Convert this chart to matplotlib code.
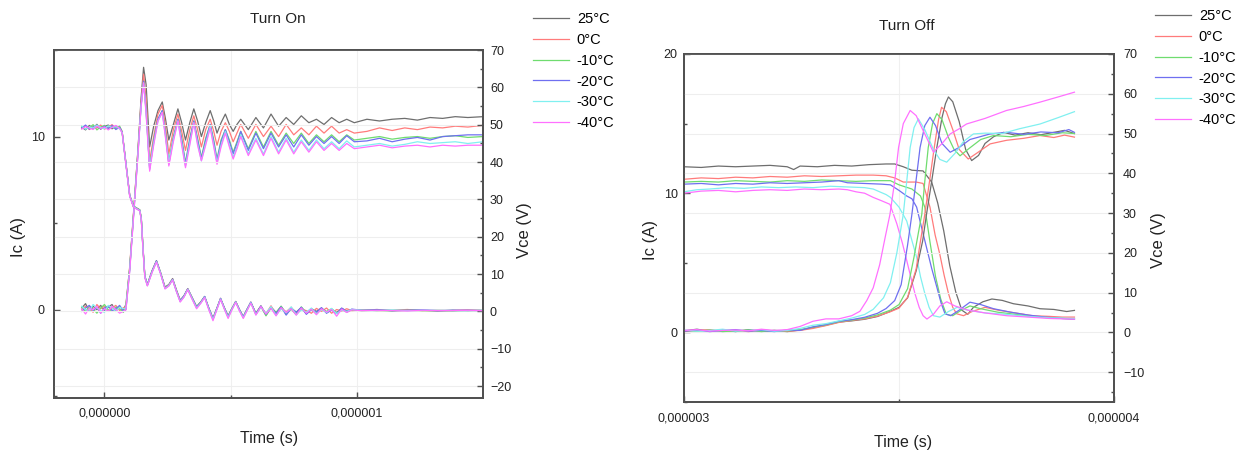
import numpy as np
import matplotlib
matplotlib.use("Agg")
import matplotlib.pyplot as plt
from matplotlib.ticker import MultipleLocator, FixedLocator, FuncFormatter

plt.rcParams['font.family'] = ['Liberation Sans', 'DejaVu Sans']

TEMPS = ['25°C', '0°C', '-10°C', '-20°C', '-30°C', '-40°C']
COLORS = ['#6e6e6e', '#ff7b7b', '#6fdc6f', '#6f6ff0', '#80f0f0', '#ff70ff']

# ---------------- Turn On (time in microseconds) ----------------
ON_IC_T = [-0.09, -0.075, -0.06, -0.045, -0.03, -0.015, 0.0, 0.015, 0.03, 0.045, 0.06, 0.075,
           0.085, 0.10, 0.117, 0.133, 0.145, 0.155, 0.165,
           0.179, 0.195, 0.212, 0.229, 0.242, 0.255, 0.273, 0.291, 0.306, 0.321, 0.338, 0.354,
           0.369, 0.384, 0.401, 0.419, 0.433, 0.446, 0.462, 0.479, 0.495, 0.51, 0.525, 0.54,
           0.57, 0.60, 0.63, 0.66, 0.69, 0.72, 0.75, 0.78, 0.81, 0.84, 0.87, 0.90, 0.93, 0.96, 0.99,
           1.04, 1.09, 1.14, 1.19, 1.24, 1.29, 1.34, 1.39, 1.44, 1.5]

ON_IC_25 = [0.1, 0.35, -0.1, 0.2, 0.0, 0.25, -0.05, 0.15, 0.3, -0.1, 0.2, 0.0,
            0.3, 2.4, 5.9, 9.3, 12.2, 14.0, 13.0,
            9.4, 10.6, 11.5, 12.0, 11.0, 9.8, 10.7, 11.6, 10.8, 9.8, 10.8, 11.6,
            10.9, 10.0, 10.8, 11.5, 10.9, 10.2, 10.8, 11.3, 10.7, 10.3, 10.7, 11.0,
            10.4, 11.1, 10.5, 11.3, 10.6, 11.1, 10.7, 11.2, 10.8, 11.0, 10.7, 11.1, 10.8, 11.0, 10.8,
            11.0, 10.9, 11.0, 11.05, 10.95, 11.1, 11.05, 11.15, 11.1, 11.15]
ON_IC_0 = [0.0, 0.2, 0.1, -0.15, 0.3, 0.05, 0.2, -0.1, 0.1, 0.25, -0.05, 0.1,
           0.2, 2.5, 6.0, 9.3, 12.0, 13.6, 12.2,
           8.6, 10.0, 11.3, 11.8, 10.6, 9.0, 10.4, 11.3, 10.3, 9.2, 10.4, 11.2,
           10.4, 9.4, 10.4, 11.0, 10.3, 9.5, 10.3, 10.8, 10.3, 9.7, 10.2, 10.7,
           9.9, 10.7, 10.0, 10.6, 10.0, 10.7, 10.1, 10.5, 10.1, 10.6, 10.2, 10.6, 10.2, 10.4, 10.2,
           10.3, 10.5, 10.35, 10.5, 10.4, 10.55, 10.5, 10.6, 10.55, 10.65]
ON_IC_M10 = [0.15, -0.1, 0.2, 0.05, -0.2, 0.1, 0.3, 0.0, -0.1, 0.15, 0.05, -0.15,
             0.1, 2.4, 5.9, 9.2, 11.8, 13.2, 11.6,
             8.2, 9.8, 11.0, 11.5, 10.2, 8.5, 10.0, 11.0, 9.9, 8.5, 9.9, 10.9,
             9.9, 8.8, 9.9, 10.7, 9.8, 8.7, 9.8, 10.4, 9.8, 9.1, 9.7, 10.3,
             9.3, 10.3, 9.4, 10.3, 9.5, 10.2, 9.6, 10.2, 9.6, 10.1, 9.7, 10.1, 9.7, 10.1, 9.8,
             9.9, 10.0, 9.85, 9.95, 10.0, 9.9, 10.0, 10.05, 9.95, 10.0]
ON_IC_M20 = [-0.1, 0.1, 0.25, -0.05, 0.15, -0.2, 0.1, 0.2, -0.05, 0.05, 0.25, -0.1,
             0.0, 2.3, 5.8, 9.1, 11.8, 13.2, 11.5,
             8.1, 9.7, 11.0, 11.5, 10.1, 8.4, 9.9, 11.0, 9.8, 8.4, 9.8, 10.9,
             9.8, 8.7, 9.8, 10.7, 9.7, 8.6, 9.7, 10.4, 9.7, 9.0, 9.6, 10.3,
             9.2, 10.2, 9.3, 10.2, 9.4, 10.1, 9.4, 10.1, 9.5, 10.0, 9.6, 10.0, 9.6, 10.05, 9.7,
             9.75, 9.9, 9.7, 9.85, 9.95, 9.8, 10.0, 10.05, 10.1, 10.1]
ON_IC_M30 = [0.2, 0.0, -0.1, 0.3, 0.1, -0.05, -0.15, 0.25, 0.1, -0.1, 0.15, 0.05,
             0.1, 2.3, 5.8, 9.1, 11.7, 13.1, 11.4,
             8.2, 9.6, 10.9, 11.4, 10.0, 8.5, 9.8, 10.9, 9.6, 8.3, 9.6, 10.8,
             9.6, 8.6, 9.6, 10.6, 9.5, 8.5, 9.5, 10.3, 9.5, 8.8, 9.4, 10.1,
             9.0, 9.9, 9.0, 10.0, 9.1, 9.9, 9.1, 9.8, 9.2, 9.8, 9.3, 9.7, 9.3, 9.75, 9.4,
             9.5, 9.6, 9.45, 9.55, 9.7, 9.6, 9.65, 9.7, 9.6, 9.7]
ON_IC_M40 = [0.05, -0.25, 0.1, 0.0, 0.2, -0.2, 0.05, -0.1, 0.2, 0.0, -0.2, -0.1,
             0.0, 2.2, 5.7, 9.0, 11.7, 13.1, 11.3,
             8.0, 9.5, 10.9, 11.4, 9.9, 8.3, 9.7, 10.9, 9.5, 8.2, 9.5, 10.8,
             9.5, 8.6, 9.5, 10.5, 9.4, 8.4, 9.4, 10.2, 9.4, 8.7, 9.3, 10.0,
             8.9, 9.8, 8.9, 9.9, 9.0, 9.8, 9.0, 9.7, 9.1, 9.7, 9.2, 9.6, 9.2, 9.6, 9.3,
             9.4, 9.5, 9.35, 9.45, 9.5, 9.4, 9.5, 9.45, 9.5, 9.5]

ON_VCE_T = [-0.09, -0.075, -0.06, -0.045, -0.03, -0.015, 0.0, 0.015, 0.03, 0.045, 0.06,
            0.07, 0.085, 0.10, 0.115, 0.13, 0.14, 0.146, 0.152, 0.16, 0.17,
            0.188, 0.206, 0.222, 0.24, 0.255, 0.27, 0.285, 0.30, 0.315, 0.33, 0.347, 0.365, 0.381,
            0.397, 0.413, 0.43, 0.445, 0.46, 0.475, 0.49, 0.505, 0.52, 0.535, 0.55, 0.565, 0.58,
            0.60, 0.62, 0.64, 0.66, 0.68, 0.70, 0.72, 0.74, 0.76, 0.78, 0.80, 0.82, 0.84, 0.86,
            0.88, 0.90, 0.92, 0.94, 0.96, 0.98,
            1.02, 1.08, 1.14, 1.2, 1.26, 1.32, 1.38, 1.44, 1.5]

ON_VCE_25 = [49.3, 48.6, 49.8, 49.0, 50.1, 48.8, 49.5, 49.9, 48.9, 49.6, 49.2,
             48.0, 39.5, 31.0, 28.2, 27.6, 27.2, 25.0, 18.0, 9.5, 7.2,
             10.8, 13.6, 10.5, 6.5, 7.2, 8.8, 5.8, 3.0, 4.2, 6.1, 3.8, 1.3, 2.5,
             4.0, 1.0, -1.8, 0.8, 3.4, 1.0, -1.2, 0.8, 2.6, 0.5, -1.4, 0.6, 2.4,
             -0.5, 1.5, -1.0, 1.2, -0.3, 1.3, -0.8, 0.9, -0.2, 1.0, -0.6, 0.7, 0.0, 0.9,
             -0.4, 0.6, -0.3, 0.8, 0.1, 0.5,
             0.3, 0.5, 0.2, 0.4, 0.3, 0.1, 0.3, 0.2, 0.3]
ON_VCE_0 = [49.0, 49.7, 48.7, 49.5, 49.1, 49.9, 48.8, 49.3, 50.0, 49.0, 49.4,
            48.2, 39.8, 31.2, 28.0, 27.5, 27.0, 24.6, 17.5, 9.2, 7.0,
            10.5, 13.4, 10.3, 6.3, 7.0, 8.6, 5.6, 2.8, 4.0, 6.0, 3.6, 1.0, 2.3,
            3.9, 0.8, -2.0, 0.7, 3.5, 0.8, -1.3, 0.6, 2.7, 0.3, -1.5, 0.4, 2.5,
            -0.8, 1.2, -0.6, 1.5, -0.9, 0.8, -0.1, 1.1, -0.7, 0.6, 0.2, -0.5, 0.8, 0.0,
            0.9, -0.5, 0.5, 0.1, 0.7, 0.2,
            0.4, 0.2, 0.3, 0.5, 0.2, 0.3, 0.2, 0.4, 0.2]
ON_VCE_M10 = [49.5, 48.9, 49.2, 50.0, 48.6, 49.4, 49.8, 48.9, 49.5, 49.1, 49.6,
              48.1, 39.6, 31.0, 28.1, 27.5, 27.1, 24.8, 17.8, 9.3, 7.1,
              10.6, 13.4, 10.4, 6.2, 7.0, 8.5, 5.5, 2.7, 4.0, 5.9, 3.5, 1.2, 2.4,
              3.9, 0.9, -2.1, 0.6, 3.4, 0.9, -1.4, 0.7, 2.6, 0.4, -1.6, 0.5, 2.4,
              -0.6, 1.3, -1.2, 0.9, -0.4, 1.4, -0.5, 0.6, -0.9, 1.2, -0.3, 0.5, -0.6, 0.8,
              0.0, 0.7, -0.5, 0.6, -0.2, 0.4,
              0.2, 0.3, 0.1, 0.3, 0.2, 0.2, 0.1, 0.3, 0.2]
ON_VCE_M20 = [49.1, 49.9, 48.8, 49.4, 49.7, 48.9, 49.6, 49.0, 49.8, 48.7, 49.3,
              48.0, 39.7, 31.1, 28.0, 27.4, 27.0, 24.7, 17.6, 9.4, 7.0,
              10.6, 13.5, 10.3, 6.2, 6.9, 8.6, 5.5, 2.8, 4.1, 6.0, 3.6, 1.1, 2.3,
              4.0, 0.9, -2.0, 0.7, 3.5, 0.9, -1.4, 0.6, 2.6, 0.4, -1.5, 0.5, 2.5,
              -0.7, 1.4, -0.8, 1.0, -0.6, 1.2, -1.0, 0.8, -0.3, 1.1, -0.8, 0.5, -0.2, 1.0,
              -0.5, 0.4, -0.6, 0.9, -0.1, 0.6,
              0.3, 0.4, 0.2, 0.3, 0.4, 0.2, 0.3, 0.3, 0.2]
ON_VCE_M30 = [49.6, 48.8, 49.4, 49.1, 49.9, 49.2, 48.9, 49.7, 49.2, 49.5, 48.9,
              47.9, 39.4, 30.9, 28.1, 27.4, 27.0, 24.5, 17.4, 9.2, 6.9,
              10.4, 13.3, 10.2, 6.1, 6.9, 8.5, 5.4, 2.6, 3.9, 5.9, 3.5, 0.9, 2.2,
              3.8, 0.7, -2.2, 0.5, 3.3, 0.7, -1.6, 0.5, 2.5, 0.2, -1.7, 0.3, 2.3,
              -0.9, 1.1, -0.5, 1.3, -1.1, 0.7, -0.4, 1.2, -0.9, 0.4, -0.2, 0.9, -0.7, 0.5,
              -0.3, 0.8, -0.6, 0.3, 0.0, 0.5,
              0.3, 0.2, 0.4, 0.2, 0.3, 0.3, 0.2, 0.2, 0.3]
ON_VCE_M40 = [48.8, 49.5, 49.1, 48.7, 49.6, 49.0, 49.4, 48.6, 49.3, 49.8, 49.0,
              47.8, 39.3, 30.8, 27.9, 27.3, 26.9, 24.4, 17.3, 9.0, 6.8,
              10.3, 13.2, 10.1, 6.0, 6.8, 8.4, 5.3, 2.5, 3.8, 5.8, 3.3, 0.7, 2.1,
              3.7, 0.5, -2.5, 0.4, 3.2, 0.6, -1.9, 0.4, 2.4, 0.1, -1.9, 0.2, 2.2,
              -1.0, 1.3, -0.7, 0.8, -1.2, 1.0, -0.3, 0.7, -1.0, 0.9, -0.5, 0.6, -0.9, 0.7,
              -0.2, 0.5, -1.3, 0.6, -0.3, 0.4,
              0.2, 0.3, 0.2, 0.1, 0.3, 0.2, 0.2, 0.3, 0.2]

# ---------------- Turn Off (time in microseconds) ----------------
OFF_IC_T_25 = [3.0, 3.04, 3.08, 3.12, 3.16, 3.20, 3.24, 3.255, 3.27, 3.31, 3.35, 3.39, 3.43, 3.47,
               3.49, 3.51, 3.53, 3.556, 3.576, 3.59, 3.604, 3.618, 3.632, 3.646, 3.66, 3.673,
               3.695, 3.716, 3.74, 3.766, 3.80, 3.828, 3.86, 3.89, 3.908]
OFF_IC_25 = [11.9, 11.85, 11.95, 11.9, 11.95, 12.0, 11.9, 11.7, 11.95, 11.9, 12.0, 11.95, 12.05, 12.1,
             12.1, 11.9, 11.65, 11.6, 10.8, 9.3, 7.3, 4.8, 2.9, 1.6, 1.3, 1.8,
             2.2, 2.4, 2.3, 2.06, 1.9, 1.7, 1.65, 1.5, 1.58]
OFF_IC_T_0 = [3.0, 3.04, 3.08, 3.12, 3.16, 3.20, 3.24, 3.28, 3.32, 3.36, 3.40, 3.44, 3.47, 3.49,
              3.51, 3.54, 3.556, 3.572, 3.584, 3.595, 3.605, 3.615, 3.625, 3.634, 3.65, 3.67,
              3.70, 3.73, 3.77, 3.81, 3.85, 3.88, 3.908]
OFF_IC_0 = [11.0, 11.1, 11.05, 11.15, 11.1, 11.2, 11.15, 11.25, 11.2, 11.25, 11.3, 11.3, 11.25, 11.1,
            10.8, 10.8, 10.7, 9.0, 7.0, 5.6, 4.1, 2.8, 1.8, 1.34, 1.2, 1.5,
            1.8, 1.6, 1.4, 1.2, 1.15, 1.1, 1.1]
OFF_IC_T_M10 = [3.0, 3.04, 3.08, 3.12, 3.16, 3.20, 3.24, 3.28, 3.32, 3.36, 3.40, 3.44, 3.48,
                3.50, 3.53, 3.55, 3.56, 3.572, 3.585, 3.597, 3.61, 3.625, 3.645, 3.665, 3.69,
                3.73, 3.77, 3.81, 3.85, 3.88, 3.908]
OFF_IC_M10 = [10.8, 10.85, 10.8, 10.9, 10.85, 10.8, 10.9, 10.85, 10.95, 10.9, 10.85, 10.9, 10.9,
              10.6, 10.3, 9.8, 9.0, 6.5, 4.0, 2.4, 1.3, 1.2, 1.6, 1.9, 1.7,
              1.45, 1.3, 1.15, 1.05, 1.0, 0.95]
OFF_IC_T_M20 = [3.0, 3.04, 3.08, 3.12, 3.16, 3.20, 3.24, 3.28, 3.32, 3.36, 3.38, 3.42, 3.46, 3.48,
                3.50, 3.518, 3.53, 3.541, 3.552, 3.564, 3.576, 3.588, 3.598, 3.607, 3.62, 3.64,
                3.665, 3.69, 3.72, 3.76, 3.80, 3.84, 3.88, 3.908]
OFF_IC_M20 = [10.65, 10.7, 10.6, 10.7, 10.65, 10.75, 10.7, 10.75, 10.8, 10.9, 10.75, 10.7, 10.65, 10.6,
              10.2, 9.8, 9.6, 9.0, 7.6, 6.1, 4.6, 3.25, 2.1, 1.34, 1.2, 1.6,
              2.17, 2.0, 1.7, 1.45, 1.25, 1.1, 1.0, 0.96]
OFF_IC_T_M30 = [3.0, 3.03, 3.06, 3.10, 3.14, 3.18, 3.22, 3.26, 3.30, 3.34, 3.38, 3.42, 3.44, 3.47,
                3.48, 3.50, 3.518, 3.53, 3.541, 3.55, 3.56, 3.57, 3.58, 3.595, 3.615, 3.635,
                3.66, 3.70, 3.75, 3.80, 3.85, 3.908]
OFF_IC_M30 = [10.1, 10.25, 10.3, 10.4, 10.35, 10.45, 10.4, 10.45, 10.4, 10.5, 10.45, 10.4, 10.3, 9.9,
              9.7, 9.0, 8.0, 6.6, 5.4, 4.0, 2.8, 1.8, 1.2, 1.1, 1.5, 1.8,
              1.6, 1.4, 1.3, 1.15, 1.05, 1.0]
OFF_IC_T_M40 = [3.0, 3.04, 3.08, 3.12, 3.16, 3.20, 3.24, 3.28, 3.32, 3.36, 3.38, 3.40, 3.42, 3.44,
                3.46, 3.479, 3.495, 3.508, 3.518, 3.528, 3.537, 3.547, 3.556, 3.565, 3.58, 3.595,
                3.611, 3.63, 3.66, 3.70, 3.75, 3.80, 3.85, 3.908]
OFF_IC_M40 = [10.0, 10.15, 10.2, 10.1, 10.2, 10.25, 10.2, 10.3, 10.25, 10.3, 10.25, 10.1, 10.0, 9.7,
              9.45, 9.2, 7.8, 6.4, 5.16, 3.9, 2.8, 1.8, 1.2, 0.96, 1.3, 1.9,
              2.2, 1.9, 1.6, 1.4, 1.2, 1.1, 1.0, 0.95]

OFF_VCE_T_25 = [3.0, 3.03, 3.06, 3.09, 3.12, 3.15, 3.18, 3.21, 3.24, 3.27, 3.30, 3.33, 3.36, 3.39,
                3.42, 3.45, 3.48, 3.50, 3.52, 3.54, 3.555, 3.564, 3.576, 3.588, 3.60, 3.608,
                3.615, 3.625, 3.64, 3.655, 3.669, 3.685, 3.70, 3.72, 3.743, 3.77, 3.80, 3.83,
                3.86, 3.885, 3.908]
OFF_VCE_25 = [0.4, 0.8, 0.3, 0.6, 0.2, 0.7, 0.3, 0.5, 0.2, 0.6, 1.2, 1.8, 2.6, 2.9,
              3.3, 4.0, 5.3, 6.3, 8.7, 15.5, 23.0, 29.7, 38.0, 46.5, 54.0, 57.5,
              59.2, 58.0, 53.0, 46.0, 43.2, 44.5, 47.5, 49.2, 50.3, 49.6, 50.2, 49.7,
              50.3, 50.8, 50.0]
OFF_VCE_T_0 = [3.0, 3.03, 3.06, 3.09, 3.12, 3.15, 3.18, 3.21, 3.24, 3.27, 3.30, 3.33, 3.36, 3.39,
               3.42, 3.45, 3.48, 3.50, 3.52, 3.54, 3.55, 3.56, 3.571, 3.582, 3.592, 3.599,
               3.61, 3.625, 3.64, 3.661, 3.68, 3.712, 3.75, 3.79, 3.828, 3.86, 3.885, 3.908]
OFF_VCE_0 = [0.2, 0.5, 0.7, 0.3, 0.5, 0.2, 0.6, 0.4, 0.3, 0.5, 1.0, 1.7, 2.5, 3.0,
             3.4, 4.1, 5.2, 6.1, 8.8, 16.0, 23.0, 29.7, 38.0, 46.5, 53.5, 56.6,
             55.5, 51.0, 46.0, 43.6, 45.0, 47.4, 48.3, 48.8, 49.5, 49.0, 49.6, 49.1]
OFF_VCE_T_M10 = [3.0, 3.03, 3.06, 3.09, 3.12, 3.15, 3.18, 3.21, 3.24, 3.27, 3.30, 3.33, 3.36, 3.39,
                 3.42, 3.45, 3.48, 3.50, 3.52, 3.535, 3.545, 3.553, 3.56, 3.568, 3.578, 3.588,
                 3.60, 3.615, 3.628, 3.642, 3.66, 3.69, 3.72, 3.76, 3.80, 3.84, 3.88, 3.908]
OFF_VCE_M10 = [0.5, 0.3, 0.6, 0.2, 0.4, 0.6, 0.2, 0.5, 0.4, 0.7, 1.3, 1.9, 2.7, 3.1,
               3.6, 4.4, 5.6, 7.0, 11.0, 19.0, 25.0, 29.7, 38.0, 46.5, 52.5, 55.0,
               53.5, 49.0, 46.0, 44.4, 46.0, 48.5, 49.5, 49.2, 49.8, 49.5, 50.2, 50.0]
OFF_VCE_T_M20 = [3.0, 3.03, 3.06, 3.09, 3.12, 3.15, 3.18, 3.21, 3.24, 3.27, 3.30, 3.33, 3.36, 3.39,
                 3.42, 3.45, 3.47, 3.49, 3.505, 3.52, 3.53, 3.54, 3.549, 3.56, 3.572, 3.585,
                 3.60, 3.619, 3.64, 3.665, 3.712, 3.75, 3.79, 3.83, 3.87, 3.895, 3.908]
OFF_VCE_M20 = [0.3, 0.6, 0.2, 0.5, 0.7, 0.3, 0.5, 0.2, 0.6, 0.5, 1.4, 2.0, 2.8, 3.2,
               3.8, 4.8, 6.0, 8.0, 12.0, 22.0, 29.7, 38.5, 46.5, 52.0, 54.1, 52.0,
               47.5, 45.3, 46.5, 48.5, 49.9, 50.3, 49.8, 50.4, 50.2, 51.0, 50.3]
OFF_VCE_T_M30 = [3.0, 3.03, 3.06, 3.09, 3.12, 3.15, 3.18, 3.21, 3.24, 3.27, 3.30, 3.33, 3.36, 3.39,
                 3.42, 3.44, 3.464, 3.48, 3.495, 3.51, 3.518, 3.526, 3.535, 3.545, 3.56, 3.58,
                 3.595, 3.611, 3.63, 3.65, 3.673, 3.70, 3.74, 3.78, 3.828, 3.87, 3.908]
OFF_VCE_M30 = [0.6, 0.3, 0.5, 0.8, 0.3, 0.5, 0.7, 0.3, 0.5, 1.0, 1.8, 2.2, 2.9, 3.6,
               4.5, 5.8, 8.7, 12.5, 20.0, 29.7, 38.0, 46.5, 51.5, 53.7, 51.0, 46.0,
               43.5, 42.8, 45.0, 48.0, 49.9, 50.1, 50.0, 51.2, 52.4, 54.0, 55.5]
OFF_VCE_T_M40 = [3.0, 3.03, 3.06, 3.09, 3.12, 3.15, 3.18, 3.21, 3.24, 3.27, 3.30, 3.33, 3.36, 3.39,
                 3.409, 3.425, 3.44, 3.455, 3.468, 3.479, 3.49, 3.499, 3.51, 3.526, 3.54, 3.555,
                 3.564, 3.58, 3.60, 3.619, 3.64, 3.657, 3.70, 3.75, 3.79, 3.828, 3.87, 3.908]
OFF_VCE_M40 = [0.5, 0.7, 0.3, 0.5, 0.6, 0.4, 0.8, 0.5, 0.7, 1.5, 2.8, 3.4, 3.4, 4.2,
               5.3, 8.0, 11.2, 17.0, 24.0, 29.7, 38.0, 46.5, 52.5, 55.8, 54.5, 51.0,
               49.0, 45.3, 47.5, 49.9, 51.2, 52.4, 53.8, 55.8, 56.8, 57.9, 59.2, 60.4]

ON_IC = [ON_IC_25, ON_IC_0, ON_IC_M10, ON_IC_M20, ON_IC_M30, ON_IC_M40]
ON_VCE = [ON_VCE_25, ON_VCE_0, ON_VCE_M10, ON_VCE_M20, ON_VCE_M30, ON_VCE_M40]
OFF_IC = [(OFF_IC_T_25, OFF_IC_25), (OFF_IC_T_0, OFF_IC_0), (OFF_IC_T_M10, OFF_IC_M10),
          (OFF_IC_T_M20, OFF_IC_M20), (OFF_IC_T_M30, OFF_IC_M30), (OFF_IC_T_M40, OFF_IC_M40)]
OFF_VCE = [(OFF_VCE_T_25, OFF_VCE_25), (OFF_VCE_T_0, OFF_VCE_0), (OFF_VCE_T_M10, OFF_VCE_M10),
           (OFF_VCE_T_M20, OFF_VCE_M20), (OFF_VCE_T_M30, OFF_VCE_M30), (OFF_VCE_T_M40, OFF_VCE_M40)]

W, H = 1251, 454
fig = plt.figure(figsize=(W / 100, H / 100), dpi=100)


def frac_rect(x0, y0, x1, y1):
    return [x0 / W, 1 - y1 / H, (x1 - x0) / W, (y1 - y0) / H]


SPINE = '#505050'
LW = 0.9
fmt = FuncFormatter(lambda v, p: f"{v:.6f}".replace('.', ','))


def style(ax, ax2, xmaj, xmin, ylim, y2lim, lpad, rpad, xpad):
    for a in (ax, ax2):
        for s in a.spines.values():
            s.set_color(SPINE)
            s.set_linewidth(1.3)
    ax.set_ylim(*ylim)
    ax2.set_ylim(*y2lim)
    ax.xaxis.set_major_locator(FixedLocator(xmaj))
    ax.xaxis.set_minor_locator(FixedLocator(xmin))
    ax.xaxis.set_major_formatter(fmt)
    ax.yaxis.set_major_locator(MultipleLocator(10))
    ax.yaxis.set_minor_locator(MultipleLocator(5))
    ax2.yaxis.set_major_locator(MultipleLocator(10))
    ax2.yaxis.set_minor_locator(MultipleLocator(5))
    ax.tick_params(axis='both', which='both', direction='in', colors=SPINE, labelcolor='#222222',
                   labelsize=9, top=False, right=False)
    ax.tick_params(axis='y', which='major', length=4, width=1.0, pad=lpad)
    ax.tick_params(axis='y', which='minor', length=2.2, width=1.0)
    ax.tick_params(axis='x', which='major', length=4, width=1.0, pad=xpad)
    ax.tick_params(axis='x', which='minor', length=2.2, width=1.0)
    ax2.tick_params(axis='y', which='both', direction='in', colors=SPINE, labelcolor='#222222',
                    labelsize=9)
    ax2.tick_params(axis='y', which='major', length=4, width=1.0, pad=rpad)
    ax2.tick_params(axis='y', which='minor', length=2.2, width=1.0)
    ax.grid(True, axis='x', which='both', color='#f0f0f0', lw=0.8)
    ax2.grid(True, axis='y', which='major', color='#eeeeee', lw=0.8)
    ax.set_axisbelow(True)
    ax2.set_axisbelow(True)


# ---------- Turn On ----------
axL = fig.add_axes(frac_rect(54, 50, 483, 398))
axL2 = axL.twinx()
tIc = np.array(ON_IC_T) * 1e-6
tV = np.array(ON_VCE_T) * 1e-6
handles = []
for name, col, ic, vce in zip(TEMPS, COLORS, ON_IC, ON_VCE):
    h, = axL.plot(tIc, ic, color=col, lw=LW, label=name)
    axL2.plot(tV, vce, color=col, lw=LW)
    handles.append(h)
axL.set_xlim(-0.2e-6, 1.5e-6)
style(axL, axL2, [0.0, 1e-6], [0.5e-6], (-5.1, 15.0), (-23.2, 70), 6.5, 5, 7)

# ---------- Turn Off ----------
axR = fig.add_axes(frac_rect(684, 54, 1114, 402))
axR2 = axR.twinx()
for name, col, (ti, ic), (tv, vce) in zip(TEMPS, COLORS, OFF_IC, OFF_VCE):
    axR.plot(np.array(ti) * 1e-6, ic, color=col, lw=LW, label=name)
    axR2.plot(np.array(tv) * 1e-6, vce, color=col, lw=LW)
axR.set_xlim(3e-6, 4e-6)
style(axR, axR2, [3e-6, 4e-6], [3.5e-6], (-5.0, 20.0), (-17.5, 70), 4.5, 6.5, 7.5)

# ---------- texts ----------
def ftext(x, y, s, **kw):
    fig.text(x / W, 1 - y / H, s, ha='center', va='center', color='#222222', **kw)

ftext(278, 19, 'Turn On', fontsize=11)
ftext(907, 26, 'Turn Off', fontsize=11)
ftext(19, 237, 'Ic (A)', fontsize=12, rotation=90)
ftext(524, 230, 'Vce (V)', fontsize=12, rotation=90)
ftext(269, 438, 'Time (s)', fontsize=11.5)
ftext(650, 240, 'Ic (A)', fontsize=12, rotation=90)
ftext(1158, 240, 'Vce (V)', fontsize=12, rotation=90)
ftext(903, 443, 'Time (s)', fontsize=11.5)

leg_kw = dict(loc='upper left', frameon=False, fontsize=10.5, handlelength=2.5,
              handletextpad=0.5, labelspacing=0.47, borderpad=0, borderaxespad=0)
fig.legend(handles=handles, labels=TEMPS, bbox_to_anchor=(533 / W, 1 - 12 / H), **leg_kw)
fig.legend(handles=handles, labels=TEMPS, bbox_to_anchor=(1155 / W, 1 - 9 / H), **leg_kw)

fig.savefig('out.png', dpi=100)
